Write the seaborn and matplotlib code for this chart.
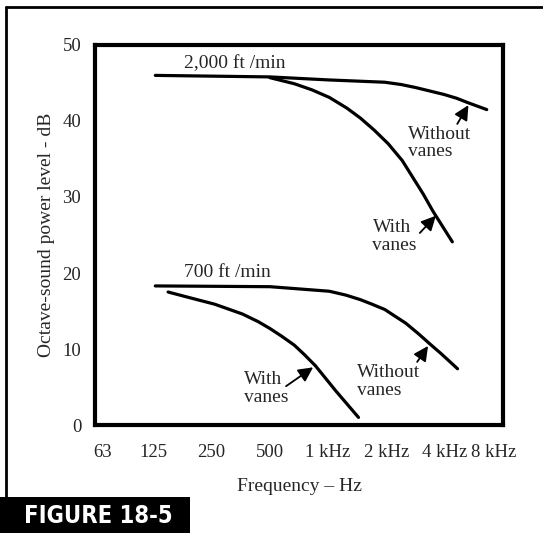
import numpy as np
import pandas as pd
import matplotlib
matplotlib.use("Agg")
import matplotlib.pyplot as plt
import matplotlib.transforms as mtransforms
import seaborn as sns
from matplotlib.lines import Line2D
from matplotlib.patches import Rectangle

# octave band frequencies (Hz) and labels
octave_hz = [62.5, 125, 250, 500, 1000, 2000, 4000, 8000]
octave_labels = ["63", "125", "250", "500", "1 kHz", "2 kHz", "4 kHz", "8 kHz"]

# 2,000 ft/min curves
hi_without_hz = [128, 500, 1010, 1960, 2378, 2830, 3950, 4596, 5280, 6590]
hi_without_db = [46.0, 45.8, 45.4, 45.1, 44.8, 44.4, 43.5, 43.0, 42.4, 41.5]
hi_with_hz = [500, 669, 824, 1014, 1248, 1464, 1729, 2043, 2412, 2732, 3095, 3482, 4377]
hi_with_db = [45.7, 44.9, 44.1, 43.1, 41.7, 40.4, 38.8, 37.0, 34.8, 32.6, 30.4, 28.1, 24.1]

# 700 ft/min curves
lo_without_hz = [128, 500, 1014, 1231, 1464, 1682, 1960, 2219, 2515, 2928, 3341, 3865, 4658]
lo_without_db = [18.3, 18.2, 17.6, 17.1, 16.5, 15.9, 15.2, 14.3, 13.4, 12.0, 10.7, 9.3, 7.4]
lo_with_hz = [149, 196, 259, 361, 435, 500, 574, 669, 758, 859, 966, 1094, 1248, 1434]
lo_with_db = [17.5, 16.7, 15.9, 14.6, 13.6, 12.7, 11.7, 10.5, 9.2, 7.8, 6.2, 4.5, 2.8, 1.0]

sns.set_style("white")
plt.rcParams['font.family'] = ['Liberation Serif', 'DejaVu Serif']

fig = plt.figure(figsize=(5.43, 5.33), dpi=100)
ax = fig.add_axes([0.175, 0.2026, 0.7514, 0.713])

curves = {
    "hi_without": (hi_without_hz, hi_without_db),
    "hi_with": (hi_with_hz, hi_with_db),
    "lo_without": (lo_without_hz, lo_without_db),
    "lo_with": (lo_with_hz, lo_with_db),
}
rows = []
for name, (hz, db) in curves.items():
    for f, d in zip(hz, db):
        rows.append({"curve": name, "freq": f, "db": d})
df = pd.DataFrame(rows)

for name in curves:
    sns.lineplot(data=df[df.curve == name], x="freq", y="db", ax=ax,
                 color="black", lw=2.3, sort=False, estimator=None,
                 solid_capstyle="round", solid_joinstyle="round")

ax.set_xscale("log", base=2)
ax.set_xlim(62.5, 8000)
ax.set_ylim(0, 50)
ax.set_xticks(octave_hz)
ax.set_xticklabels(octave_labels)
ax.minorticks_off()
ax.set_yticks([0, 10, 20, 30, 40, 50])
ax.tick_params(axis="both", direction="in", length=6, width=2.5,
               labelsize=13.5, color="black")
ax.tick_params(axis="x", pad=14)
ax.tick_params(axis="y", pad=10)
for s in ax.spines.values():
    s.set_linewidth(3)
    s.set_color("black")

# end labels nudged inward like the original
xl = ax.get_xticklabels()
xl[0].set_transform(xl[0].get_transform() +
                    mtransforms.ScaledTranslation(0.08, 0, fig.dpi_scale_trans))
xl[-1].set_transform(xl[-1].get_transform() +
                     mtransforms.ScaledTranslation(-0.09, 0, fig.dpi_scale_trans))

ax.set_xlabel("Frequency – Hz", fontsize=14, labelpad=12)
ax.set_ylabel("Octave-sound power level - dB", fontsize=14, labelpad=5)

# curve labels
ax.text(179, 47.6, "2,000 ft /min", fontsize=14, va="center", ha="left")
ax.text(179, 20.1, "700 ft /min", fontsize=14, va="center", ha="left")

arrow = dict(arrowstyle="-|>", color="black", lw=1.3, mutation_scale=22)
notes = [
    ("Without\nvanes", (2570, 39.4), (5390, 42.4), (4564, 39.3)),
    ("With\nvanes", (1694, 27.1), (3680, 27.8), (2908, 25.0)),
    ("With\nvanes", (368, 7.1), (859, 7.8), (590, 4.9)),
    ("Without\nvanes", (1405, 8.0), (3341, 10.7), (2828, 8.0)),
]
for txt, pos, tip, tail in notes:
    ax.text(pos[0], pos[1], txt, fontsize=14, ha="left", va="top",
            linespacing=1.05)
    ax.annotate("", xy=tip, xytext=tail, arrowprops=arrow)

# page frame and figure tag
fig.add_artist(Line2D([6 / 543, 6 / 543], [1 - 7 / 533, 1 - 497 / 533],
                      transform=fig.transFigure, color="black", lw=2))
fig.add_artist(Line2D([6 / 543, 1.0], [1 - 7 / 533, 1 - 7 / 533],
                      transform=fig.transFigure, color="black", lw=2))
fig.add_artist(Rectangle((0, 0), 190 / 543, 36 / 533, transform=fig.transFigure,
                         facecolor="black", edgecolor="none"))
fig.text(98 / 543, 17 / 533, "FIGURE 18-5", color="white", fontsize=17,
         fontweight="bold", fontstretch="condensed", ha="center", va="center",
         family=['DejaVu Sans'])

fig.savefig("out.png", dpi=100)
